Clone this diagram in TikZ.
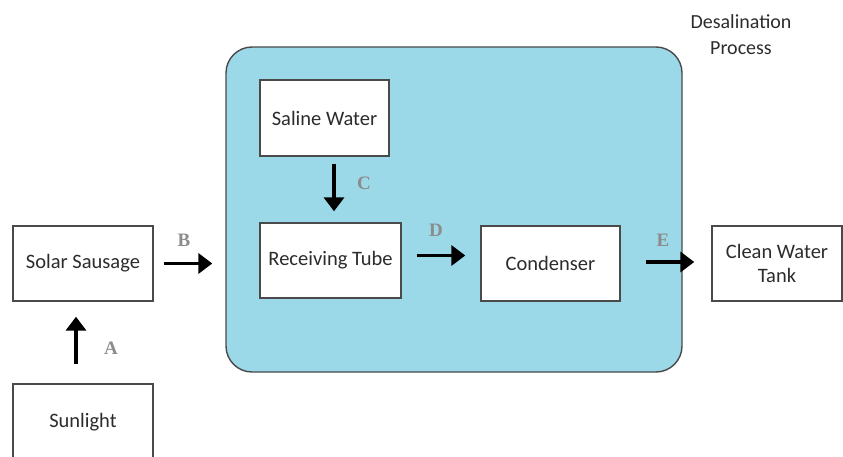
\documentclass[tikz,border=0pt]{standalone}
\usepackage{fontspec}
\setmainfont{Carlito}
\newfontfamily\labelfont{Liberation Serif}
\usepackage{tikz}
\usetikzlibrary{positioning,calc,arrows.meta}
\definecolor{desalblue}{HTML}{9BD8E8}
\definecolor{edgegray}{HTML}{4A4A4A}
\definecolor{textgray}{HTML}{2C2C2C}
\definecolor{taggray}{HTML}{8C8C8C}

\begin{document}
\begin{tikzpicture}[x = 1pt, y = -1pt,
    block/.style = {draw = edgegray, line width = 1.4pt, fill = white, text = textgray, font = \fontsize{20.5}{24}\selectfont, align = center, inner sep = 0pt},
    flow/.style = {line width = 3.5pt, -{Triangle[length = 14pt, width = 20pt]}},
    tag/.style = {text = taggray, font = \labelfont\bfseries\fontsize{19}{22}\selectfont}]
    \useasboundingbox (0, 0) rectangle (843, 457);
    % DESALINATION PROCESS
    \node[draw = edgegray, line width = 1.4pt, fill = desalblue, rounded corners = 26pt, minimum width = 456pt, minimum height = 325pt] (desal) at (454, 209.5) {};
    \node[text = textgray, font = \fontsize{20}{26}\selectfont, align = center] (desalname) at (741, 35) {Desalination\\Process};
    % BLOCKS
    \node[block, minimum width = 140pt, minimum height = 76pt] (sun) at (83, 422) {Sunlight};
    \node[block, minimum width = 140pt, minimum height = 75pt] (sausage) at (83, 263.5) {Solar Sausage};
    \node[block, minimum width = 129pt, minimum height = 76pt] (saline) at (324.5, 118) {Saline Water};
    \node[block, minimum width = 141pt, minimum height = 75pt] (tube) at (330.5, 260.5) {Receiving Tube};
    \node[block, minimum width = 139pt, minimum height = 75pt] (cond) at (550.5, 263.5) {Condenser};
    \node[block, minimum width = 130pt, minimum height = 75pt] (tank) at (777, 263.5) {Clean Water\\Tank};
    % FLOWS
    \draw[flow, shorten < = 19pt, shorten > = 15pt] ([xshift = -7pt]sun.north) -- ([xshift = -7pt]sausage.south);
    \draw[flow, shorten < = 10pt, shorten > = 13pt] (sausage.east) -- (sausage.east -| desal.west);
    \draw[flow, shorten < = 7pt, shorten > = 11pt] ([xshift = 3.5pt]saline.south -| tube.north) -- ([xshift = 3.5pt]tube.north);
    \draw[flow, shorten < = 15pt, shorten > = 15pt] ([yshift = 5pt]tube.east) -- ([yshift = 5pt]tube.east -| cond.west);
    \draw[flow, shorten < = 25pt, shorten > = 17pt] ([yshift = 1.5pt]cond.east) -- ([yshift = 1.5pt]cond.east -| tank.west);
    % LABELS
    \node[tag] (labA) at (111, 348) {A};
    \node[tag] (labB) at (184, 240) {B};
    \node[tag] (labC) at (364, 183) {C};
    \node[tag] (labD) at (436, 230) {D};
    \node[tag] (labE) at (663, 240) {E};
\end{tikzpicture}
\end{document}
